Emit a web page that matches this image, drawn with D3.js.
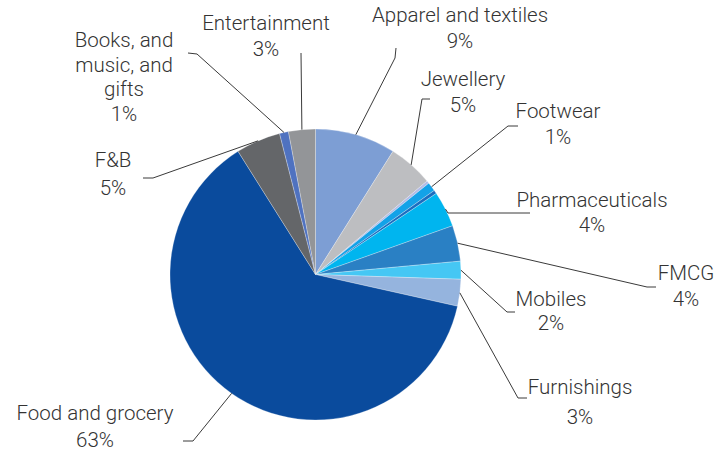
<!DOCTYPE html>
<html>
<head>
<meta charset="utf-8">
<script src="https://cdn.jsdelivr.net/npm/d3@7"></script>
<style>
  html, body { margin: 0; padding: 0; background: #fff; }
  svg { display: block; }
  .lbl { font-family: Roboto, "Liberation Sans", Arial, sans-serif; font-weight: 300; font-size: 20.5px; fill: #333; }
</style>
</head>
<body>
<svg id="chart" width="722" height="456"></svg>
<script>
// Retail segment shares (%), clockwise from 12 o'clock.
// Two hairline segments without labels sit between Jewellery, Footwear and Pharmaceuticals.
const categories = ["Apparel and textiles", "Jewellery", "", "Footwear", "", "Pharmaceuticals",
                    "FMCG", "Mobiles", "Furnishings", "Food and grocery", "F&B",
                    "Books, and music, and gifts", "Entertainment"];
const shares = [9, 5, 0.3, 1, 0.4, 4, 4, 2, 3, 63, 5, 1, 3];
const valueLabels = ["9%", "5%", "", "1%", "", "4%", "4%", "2%", "3%", "63%", "5%", "1%", "3%"];
const colors = ["#7d9ed4", "#bdbec1", "#b3bce6", "#13a2e8", "#1b6dbf", "#00b5ef",
                "#2a80c4", "#45c7f4", "#95b4de", "#0a4b9d", "#646669", "#4f72c0", "#939598"];

// Label placement: text centre x, first baseline y, name lines, leader elbow points.
const labelLayout = [
  { x: 460, y: 22,  lines: ["Apparel and textiles"], elbows: [[396, 48], [395, 58]] },
  { x: 463, y: 86,  lines: ["Jewellery"], elbows: [[430, 99], [422, 99]] },
  null,
  { x: 558, y: 118, lines: ["Footwear"], elbows: [[518, 126], [508, 126]] },
  null,
  { x: 592, y: 207, lines: ["Pharmaceuticals"], elbows: [[530, 213], [448, 213]] },
  { x: 686, y: 280, lines: ["FMCG"], elbows: [[656, 287], [647, 287]] },
  { x: 551, y: 306, lines: ["Mobiles"], elbows: [[515, 312], [507, 312]] },
  { x: 580, y: 394, lines: ["Furnishings"], elbows: [[527, 398], [518, 398]] },
  { x: 95,  y: 420, lines: ["Food and grocery"], elbows: [[183, 441], [193, 441]] },
  { x: 113, y: 167, lines: ["F&B"], elbows: [[143, 178], [153, 178]] },
  { x: 124, y: 47,  lines: ["Books, and", "music, and", "gifts"], elbows: [[188, 53], [197, 54]] },
  { x: 266, y: 30,  lines: ["Entertainment"], elbows: [[301, 53]] }
];

const lineGaps = [26, 26, 0, 26, 0, 25, 26, 24, 30, 27, 28, 24.5, 26];

const svg = d3.select("#chart");
const cx = 315.5, cy = 274.5, r = 145.5;

const data = categories.map((c, i) => ({ name: c, value: shares[i], label: valueLabels[i], color: colors[i], layout: labelLayout[i], gap: lineGaps[i] }));

const pie = d3.pie().sort(null).value(d => d.value).startAngle(0).endAngle(2 * Math.PI);
const arc = d3.arc().innerRadius(0).outerRadius(r);
const arcs = pie(data);

const g = svg.append("g").attr("transform", `translate(${cx},${cy})`);
g.selectAll("path.slice")
  .data(arcs)
  .join("path")
  .attr("class", "slice")
  .attr("d", arc)
  .attr("fill", d => d.data.color)
  .attr("stroke", "rgba(255,255,255,0.45)")
  .attr("stroke-width", 0.6);

// Leader lines from slice edge midpoints to their labels
const line = d3.line();
arcs.forEach(a => {
  const L = a.data.layout;
  if (!L) return;
  const mid = (a.startAngle + a.endAngle) / 2;
  const edge = [cx + r * Math.sin(mid), cy - r * Math.cos(mid)];
  const pts = L.elbows.concat([edge]);
  svg.append("path")
    .attr("d", line(pts))
    .attr("fill", "none")
    .attr("stroke", "#3a3a3a")
    .attr("stroke-width", 1);

  const t = svg.append("text")
    .attr("class", "lbl")
    .attr("text-anchor", "middle");
  const all = L.lines.concat([a.data.label]);
  all.forEach((s, i) => {
    t.append("tspan")
      .attr("x", L.x)
      .attr("y", L.y + i * a.data.gap)
      .text(s);
  });
});
</script>
</body>
</html>
